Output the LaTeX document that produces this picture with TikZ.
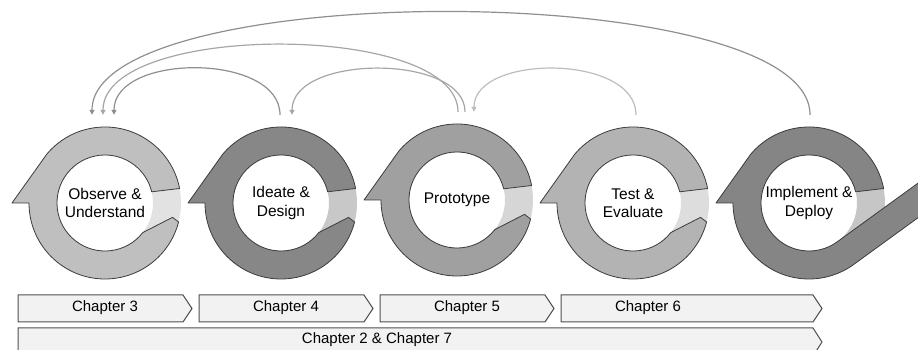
\documentclass[tikz,border=0pt]{standalone}
\usepackage{fontspec}
\setmainfont{Liberation Sans}
\usetikzlibrary{arrows.meta}

\definecolor{ringone}{HTML}{BFBFBF}
\definecolor{ringtwo}{HTML}{878787}
\definecolor{ringthree}{HTML}{A0A0A0}
\definecolor{ringfour}{HTML}{B3B3B3}
\definecolor{ringfive}{HTML}{858585}
\definecolor{gapone}{HTML}{E2E2E2}
\definecolor{gaptwo}{HTML}{C8C8C8}
\definecolor{gapthree}{HTML}{D6D6D6}
\definecolor{gapfour}{HTML}{DDDDDD}
\definecolor{gapfive}{HTML}{C6C6C6}
\definecolor{edgegrey}{HTML}{3C3C3C}
\definecolor{bargrey}{HTML}{F2F2F2}
\definecolor{loopdark}{HTML}{8F8F8F}
\definecolor{loopmid}{HTML}{A6A6A6}
\definecolor{looplight}{HTML}{BDBDBD}

% ring with the gap on its right side: x, y, ring colour, gap colour
\newcommand{\cyclering}[4]{%
  \begin{scope}[shift={(#1,#2)}]
    \fill[#4, even odd rule] (0,0) circle (76pt) (0,0) circle (48pt);
    \draw[ringline, fill=#3]
    (11:76pt) arc[start angle=11, end angle=140, radius=76pt]
    -- (-93,0) -- (180:76pt) arc[start angle=180, end angle=345.5, radius=76pt]
    -- (-12:69pt) -- (-38:48pt) arc[start angle=-38, end angle=-346.5, radius=48pt]
    -- cycle;
  \end{scope}}

% chapter bar: left x, body end x, bottom y, top y
\newcommand{\chapbar}[4]{%
  \draw[barline] (#1,#3) -- (#2,#3) -- ({#2+9},{(#3+#4)/2}) -- (#2,#4) -- (#1,#4) -- cycle;}

\begin{document}
\begin{tikzpicture}[x=1pt, y=1pt,
    ringline/.style = {draw=edgegrey, line width=0.8pt, line join=round},
    barline/.style = {draw=edgegrey!90, fill=bargrey, line width=1pt},
    ringtext/.style = {circle, minimum size=176pt, inner sep=0pt, align=center,
                       font=\fontsize{15.5}{18.5}\selectfont},
    bartext/.style = {font=\fontsize{15}{18}\selectfont},
    backloop/.style = {line width=1.2pt, -{Triangle[length=5pt, width=5pt]}}]
    \useasboundingbox (0,0) rectangle (918,350);
    \clip (0,0) rectangle (918,350);

    \cyclering{105}{147}{ringone}{gapone}
    \cyclering{281}{147}{ringtwo}{gaptwo}
    \cyclering{457}{150}{ringthree}{gapthree}
    \cyclering{633}{147}{ringfour}{gapfour}

    % last ring runs out to the right
    \begin{scope}[shift={(809,147)}]
        \fill[gapfive, even odd rule] (0,0) circle (76pt) (0,0) circle (48pt);
        \draw[ringline, fill=ringfive]
        (11:76pt) arc[start angle=11, end angle=140, radius=76pt]
        -- (-93,0) -- (180:76pt) arc[start angle=180, end angle=306, radius=76pt]
        -- ++(36:160pt) -- ++(126:28pt) -- (-54:48pt)
        arc[start angle=-54, end angle=-346.5, radius=48pt] -- cycle;
    \end{scope}

    \node[ringtext] (observe) at (105,147) {Observe \&\\Understand};
    \node[ringtext] (ideate) at (281,147) {Ideate \&\\Design};
    \node[ringtext] (prototype) at (457,150) {Prototype};
    \node[ringtext] (test) at (633,147) {Test \&\\Evaluate};
    \node[ringtext] (implement) at (809,147) {Implement \&\\Deploy};

    \draw[backloop, draw=loopdark]
    ([xshift=-1pt]ideate.north) .. controls +(0,62) and +(0,62) .. ([xshift=9pt]observe.north);
    \draw[backloop, draw=loopmid]
    ([xshift=1pt]prototype.north) .. controls +(0,90) and +(0,93) .. ([xshift=-2pt]observe.north);
    \draw[backloop, draw=loopdark]
    ([xshift=1pt]implement.north) .. controls +(0,137) and +(0,137) .. ([xshift=-13pt]observe.north);
    \draw[backloop, draw=loopmid]
    ([xshift=8pt]prototype.north) .. controls +(0,58) and +(0,61) .. ([xshift=11pt]ideate.north);
    \draw[backloop, draw=looplight]
    ([xshift=3pt]test.north) .. controls +(0,61) and +(0,58) .. ([xshift=17pt]prototype.north);

    \chapbar{18}{183}{28}{55}
    \chapbar{199}{364}{28}{55}
    \chapbar{380}{545}{28}{55}
    \chapbar{561}{813}{28}{55}
    \chapbar{18}{813}{-6}{22}

    \node[bartext] (chthree) at (105,42) {Chapter 3};
    \node[bartext] (chfour) at (286,42) {Chapter 4};
    \node[bartext] (chfive) at (467,42) {Chapter 5};
    \node[bartext] (chsix) at (648,42) {Chapter 6};
    \node[bartext] (chall) at (377,10) {Chapter 2 \& Chapter 7};
\end{tikzpicture}
\end{document}
